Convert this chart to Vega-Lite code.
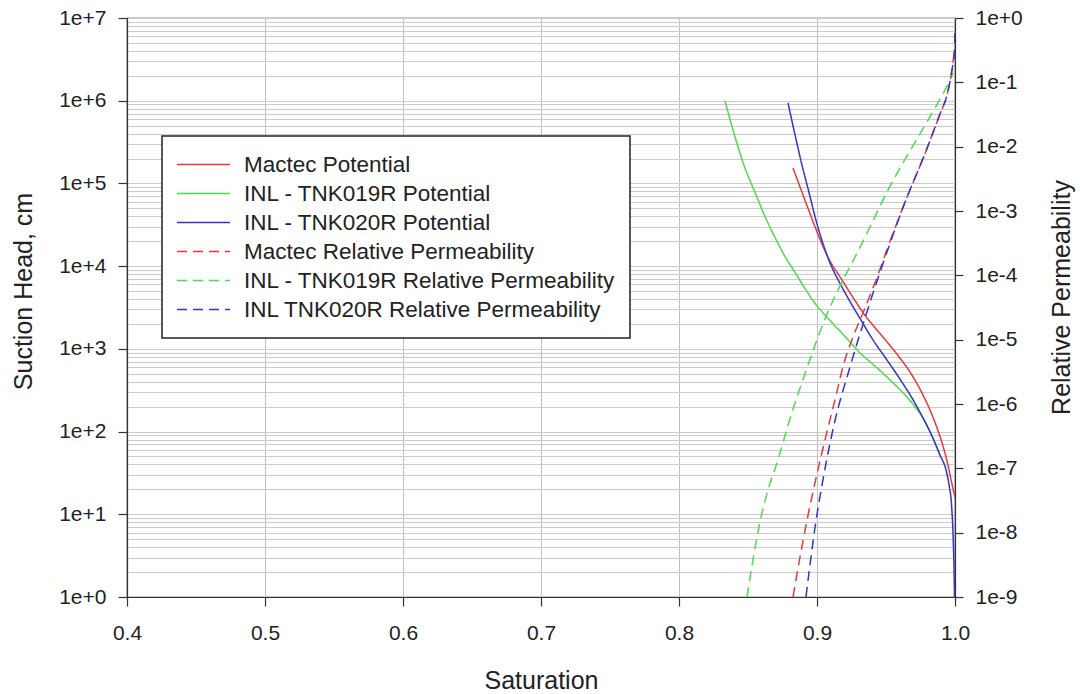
{
  "$schema": "https://vega.github.io/schema/vega-lite/v6.json",
  "width": 828,
  "height": 579,
  "autosize": {"type": "none"},
  "padding": {"left": 127, "top": 18, "right": 125, "bottom": 97},
  "background": "white",
  "config": {
    "view": {"stroke": "#333333", "strokeWidth": 1.2},
    "axis": {
      "labelFont": "Liberation Sans",
      "titleFont": "Liberation Sans",
      "labelFontSize": 21,
      "titleFontSize": 25,
      "titleFontWeight": "normal",
      "labelColor": "#222222",
      "titleColor": "#222222",
      "domainColor": "#333333",
      "domainWidth": 1.2,
      "tickColor": "#333333",
      "tickWidth": 1.2,
      "gridColor": "#c8c8c8",
      "gridWidth": 1,
      "labelFlush": false,
      "labelOverlap": false
    },
    "legend": {
      "strokeColor": "#222222",
      "strokeWidth": 1.5,
      "fillColor": "white",
      "padding": 14,
      "symbolType": "stroke",
      "symbolSize": 2809,
      "symbolStrokeWidth": 1.5,
      "labelFont": "Liberation Sans",
      "labelFontSize": 22.5,
      "labelColor": "#222222",
      "labelOffset": 13,
      "labelLimit": 0,
      "clipHeight": 29,
      "rowPadding": 0
    }
  },
  "datasets": {
    "potential": [
      {"series": "INL - TNK019R Potential", "s": 0.8333, "h": 1000000},
      {"series": "INL - TNK019R Potential", "s": 0.8406, "h": 364700},
      {"series": "INL - TNK019R Potential", "s": 0.8478, "h": 153800},
      {"series": "INL - TNK019R Potential", "s": 0.8551, "h": 77800},
      {"series": "INL - TNK019R Potential", "s": 0.8623, "h": 39800},
      {"series": "INL - TNK019R Potential", "s": 0.8696, "h": 22180},
      {"series": "INL - TNK019R Potential", "s": 0.8768, "h": 13090},
      {"series": "INL - TNK019R Potential", "s": 0.8841, "h": 8390},
      {"series": "INL - TNK019R Potential", "s": 0.8913, "h": 5370},
      {"series": "INL - TNK019R Potential", "s": 0.8986, "h": 3540},
      {"series": "INL - TNK019R Potential", "s": 0.9094, "h": 2204},
      {"series": "INL - TNK019R Potential", "s": 0.9203, "h": 1412},
      {"series": "INL - TNK019R Potential", "s": 0.9312, "h": 892},
      {"series": "INL - TNK019R Potential", "s": 0.942, "h": 621},
      {"series": "INL - TNK019R Potential", "s": 0.9529, "h": 421},
      {"series": "INL - TNK019R Potential", "s": 0.9638, "h": 277},
      {"series": "INL - TNK019R Potential", "s": 0.971, "h": 200},
      {"series": "INL - TNK019R Potential", "s": 0.9783, "h": 132},
      {"series": "INL - TNK019R Potential", "s": 0.9833, "h": 88.5},
      {"series": "INL - TNK019R Potential", "s": 0.9891, "h": 52.1},
      {"series": "Mactec Potential", "s": 0.8826, "h": 153800},
      {"series": "Mactec Potential", "s": 0.8877, "h": 90600},
      {"series": "Mactec Potential", "s": 0.8928, "h": 53700},
      {"series": "Mactec Potential", "s": 0.8986, "h": 29800},
      {"series": "Mactec Potential", "s": 0.9036, "h": 18550},
      {"series": "Mactec Potential", "s": 0.9094, "h": 11560},
      {"series": "Mactec Potential", "s": 0.9167, "h": 7410},
      {"series": "Mactec Potential", "s": 0.9254, "h": 4365},
      {"series": "Mactec Potential", "s": 0.9341, "h": 2636},
      {"series": "Mactec Potential", "s": 0.9428, "h": 1738},
      {"series": "Mactec Potential", "s": 0.9514, "h": 1178},
      {"series": "Mactec Potential", "s": 0.9601, "h": 776},
      {"series": "Mactec Potential", "s": 0.9688, "h": 483},
      {"series": "Mactec Potential", "s": 0.9761, "h": 292},
      {"series": "Mactec Potential", "s": 0.9819, "h": 182.4},
      {"series": "Mactec Potential", "s": 0.987, "h": 110.5},
      {"series": "Mactec Potential", "s": 0.9913, "h": 66.9},
      {"series": "Mactec Potential", "s": 0.9949, "h": 39.4},
      {"series": "Mactec Potential", "s": 0.9975, "h": 24.6},
      {"series": "Mactec Potential", "s": 0.9993, "h": 18.1},
      {"series": "Mactec Potential", "s": 1.0, "h": 16.2},
      {"series": "INL - TNK020R Potential", "s": 0.879, "h": 940000},
      {"series": "INL - TNK020R Potential", "s": 0.8841, "h": 385500},
      {"series": "INL - TNK020R Potential", "s": 0.8891, "h": 167200},
      {"series": "INL - TNK020R Potential", "s": 0.8942, "h": 77800},
      {"series": "INL - TNK020R Potential", "s": 0.8993, "h": 35650},
      {"series": "INL - TNK020R Potential", "s": 0.9043, "h": 18790},
      {"series": "INL - TNK020R Potential", "s": 0.9093, "h": 11070},
      {"series": "INL - TNK020R Potential", "s": 0.9167, "h": 6170},
      {"series": "INL - TNK020R Potential", "s": 0.9239, "h": 3736},
      {"series": "INL - TNK020R Potential", "s": 0.9312, "h": 2328},
      {"series": "INL - TNK020R Potential", "s": 0.9406, "h": 1280},
      {"series": "INL - TNK020R Potential", "s": 0.9507, "h": 733},
      {"series": "INL - TNK020R Potential", "s": 0.9601, "h": 432},
      {"series": "INL - TNK020R Potential", "s": 0.9688, "h": 255},
      {"series": "INL - TNK020R Potential", "s": 0.9761, "h": 154},
      {"series": "INL - TNK020R Potential", "s": 0.9833, "h": 88.5},
      {"series": "INL - TNK020R Potential", "s": 0.9891, "h": 52.1},
      {"series": "INL - TNK020R Potential", "s": 0.9935, "h": 34.3},
      {"series": "INL - TNK020R Potential", "s": 0.9957, "h": 22.6},
      {"series": "INL - TNK020R Potential", "s": 0.9975, "h": 12.9},
      {"series": "INL - TNK020R Potential", "s": 0.9986, "h": 5.62},
      {"series": "INL - TNK020R Potential", "s": 0.9993, "h": 2.12},
      {"series": "INL - TNK020R Potential", "s": 0.99964, "h": 1}
    ],
    "perm": [
      {"series": "INL - TNK019R Relative Permeability", "s": 0.8493, "k": 1e-9},
      {"series": "INL - TNK019R Relative Permeability", "s": 0.8536, "k": 3.76e-9},
      {"series": "INL - TNK019R Relative Permeability", "s": 0.8587, "k": 1.466e-8},
      {"series": "INL - TNK019R Relative Permeability", "s": 0.8645, "k": 4.6e-8},
      {"series": "INL - TNK019R Relative Permeability", "s": 0.8717, "k": 1.349e-7},
      {"series": "INL - TNK019R Relative Permeability", "s": 0.8797, "k": 5.25e-7},
      {"series": "INL - TNK019R Relative Permeability", "s": 0.892, "k": 3.26e-6},
      {"series": "INL - TNK019R Relative Permeability", "s": 0.9064, "k": 2.25e-5},
      {"series": "INL - TNK019R Relative Permeability", "s": 0.9188, "k": 8.47e-5},
      {"series": "INL - TNK019R Relative Permeability", "s": 0.9261, "k": 1.671e-4},
      {"series": "INL - TNK019R Relative Permeability", "s": 0.9383, "k": 5.56e-4},
      {"series": "INL - TNK019R Relative Permeability", "s": 0.9507, "k": 1.977e-3},
      {"series": "INL - TNK019R Relative Permeability", "s": 0.9623, "k": 5.57e-3},
      {"series": "INL - TNK019R Relative Permeability", "s": 0.9746, "k": 0.01574},
      {"series": "INL - TNK019R Relative Permeability", "s": 0.9855, "k": 0.0399},
      {"series": "INL - TNK019R Relative Permeability", "s": 0.9964, "k": 0.1089},
      {"series": "INL - TNK019R Relative Permeability", "s": 0.9986, "k": 0.1396},
      {"series": "Mactec Relative Permeability", "s": 0.8826, "k": 1e-9},
      {"series": "Mactec Relative Permeability", "s": 0.8877, "k": 4.19e-9},
      {"series": "Mactec Relative Permeability", "s": 0.8928, "k": 1.574e-8},
      {"series": "Mactec Relative Permeability", "s": 0.9, "k": 8.17e-8},
      {"series": "Mactec Relative Permeability", "s": 0.9072, "k": 3.67e-7},
      {"series": "Mactec Relative Permeability", "s": 0.913, "k": 1.155e-6},
      {"series": "Mactec Relative Permeability", "s": 0.9196, "k": 4.35e-6},
      {"series": "Mactec Relative Permeability", "s": 0.9261, "k": 1.102e-5},
      {"series": "Mactec Relative Permeability", "s": 0.9333, "k": 2.6e-5},
      {"series": "Mactec Relative Permeability", "s": 0.9428, "k": 8.47e-5},
      {"series": "Mactec Relative Permeability", "s": 0.9514, "k": 2.76e-4},
      {"series": "Mactec Relative Permeability", "s": 0.9623, "k": 1.138e-3},
      {"series": "Mactec Relative Permeability", "s": 0.979, "k": 8.57e-3},
      {"series": "Mactec Relative Permeability", "s": 0.9891, "k": 0.0322},
      {"series": "Mactec Relative Permeability", "s": 0.9942, "k": 0.0635},
      {"series": "Mactec Relative Permeability", "s": 0.9978, "k": 0.1556},
      {"series": "Mactec Relative Permeability", "s": 1.0, "k": 0.381},
      {"series": "INL TNK020R Relative Permeability", "s": 0.892, "k": 1e-9},
      {"series": "INL TNK020R Relative Permeability", "s": 0.8949, "k": 3.14e-9},
      {"series": "INL TNK020R Relative Permeability", "s": 0.8986, "k": 1.225e-8},
      {"series": "INL TNK020R Relative Permeability", "s": 0.9043, "k": 6.59e-8},
      {"series": "INL TNK020R Relative Permeability", "s": 0.9123, "k": 4.72e-7},
      {"series": "INL TNK020R Relative Permeability", "s": 0.9239, "k": 3.76e-6},
      {"series": "INL TNK020R Relative Permeability", "s": 0.9355, "k": 2.42e-5},
      {"series": "INL TNK020R Relative Permeability", "s": 0.9457, "k": 1.127e-4},
      {"series": "INL TNK020R Relative Permeability", "s": 0.953, "k": 3.18e-4},
      {"series": "INL TNK020R Relative Permeability", "s": 0.9623, "k": 1.138e-3},
      {"series": "INL TNK020R Relative Permeability", "s": 0.979, "k": 8.57e-3},
      {"series": "INL TNK020R Relative Permeability", "s": 0.9891, "k": 0.0322},
      {"series": "INL TNK020R Relative Permeability", "s": 0.9942, "k": 0.0635},
      {"series": "INL TNK020R Relative Permeability", "s": 0.9978, "k": 0.1556},
      {"series": "INL TNK020R Relative Permeability", "s": 0.9996, "k": 0.318},
      {"series": "INL TNK020R Relative Permeability", "s": 1.0, "k": 0.652}
    ]
  },
  "layer": [
    {
      "data": {"name": "potential"},
      "mark": {"type": "line", "strokeWidth": 1.5, "interpolate": "monotone", "clip": true},
      "encoding": {
        "x": {
          "field": "s", "type": "quantitative",
          "scale": {"domain": [0.4, 1.0], "nice": false, "zero": false},
          "axis": {
            "values": [0.4, 0.5, 0.6, 0.7, 0.8, 0.9, 1.0],
            "format": ".1f",
            "grid": true,
            "gridColor": "#c0c0c0",
            "tickSize": 9,
            "labelPadding": 16,
            "title": "Saturation",
            "titleY": 91,
            "titleBaseline": "alphabetic"
          }
        },
        "y": {
          "field": "h", "type": "quantitative",
          "scale": {"type": "log", "domain": [1, 10000000], "nice": false},
          "axis": {
            "values": [1,2,3,4,5,6,7,8,9,10,20,30,40,50,60,70,80,90,100,200,300,400,500,600,700,800,900,1000,2000,3000,4000,5000,6000,7000,8000,9000,10000,20000,30000,40000,50000,60000,70000,80000,90000,100000,200000,300000,400000,500000,600000,700000,800000,900000,1000000,2000000,3000000,4000000,5000000,6000000,7000000,8000000,9000000,10000000],
            "grid": true,
            "gridColor": "#cbcbcb",
            "labelExpr": "abs(log(datum.value)/LN10 - round(log(datum.value)/LN10)) < 0.001 ? format(datum.value, '.0e') : ''",
            "tickSize": 9,
            "tickOpacity": {"condition": {"test": "abs(log(datum.value)/LN10 - round(log(datum.value)/LN10)) < 0.001", "value": 1}, "value": 0},
            "labelPadding": 12,
            "title": "Suction Head, cm",
            "titleAngle": 270,
            "titleAlign": "center",
            "titleBaseline": "alphabetic",
            "titleX": -96,
            "titleY": 273
          }
        },
        "color": {
          "field": "series", "type": "nominal",
          "scale": {
            "domain": ["Mactec Potential", "INL - TNK019R Potential", "INL - TNK020R Potential", "Mactec Relative Permeability", "INL - TNK019R Relative Permeability", "INL TNK020R Relative Permeability"],
            "range": ["#e8393a", "#4cdc4c", "#3535c8", "#e8393a", "#4cdc4c", "#3535c8"]
          },
          "legend": {"title": null, "orient": "none", "legendX": 35, "legendY": 118}
        },
        "strokeDash": {
          "field": "series", "type": "nominal",
          "scale": {
            "domain": ["Mactec Potential", "INL - TNK019R Potential", "INL - TNK020R Potential", "Mactec Relative Permeability", "INL - TNK019R Relative Permeability", "INL TNK020R Relative Permeability"],
            "range": [[1, 0], [1, 0], [1, 0], [10, 6], [10, 6], [10, 6]]
          },
          "legend": {"title": null, "orient": "none", "legendX": 35, "legendY": 118}
        }
      }
    },
    {
      "data": {"name": "perm"},
      "mark": {"type": "line", "strokeWidth": 1.5, "interpolate": "monotone", "clip": true},
      "encoding": {
        "x": {
          "field": "s", "type": "quantitative",
          "scale": {"domain": [0.4, 1.0], "nice": false, "zero": false},
          "axis": {
            "values": [0.4, 0.5, 0.6, 0.7, 0.8, 0.9, 1.0],
            "format": ".1f",
            "grid": true,
            "gridColor": "#c0c0c0",
            "tickSize": 9,
            "labelPadding": 16,
            "title": "Saturation",
            "titleY": 91,
            "titleBaseline": "alphabetic"
          }
        },
        "y": {
          "field": "k", "type": "quantitative",
          "scale": {"type": "log", "domain": [1e-9, 1], "nice": false},
          "axis": {
            "orient": "right",
            "values": [1e-9, 1e-8, 1e-7, 1e-6, 1e-5, 1e-4, 1e-3, 1e-2, 1e-1, 1],
            "format": ".0e",
            "grid": false,
            "tickSize": 8,
            "labelPadding": 12,
            "title": "Relative Permeability",
            "titleAngle": 270,
            "titleAlign": "center",
            "titleBaseline": "alphabetic",
            "titleX": 114,
            "titleY": 279
          }
        },
        "color": {
          "field": "series", "type": "nominal",
          "legend": {"title": null, "orient": "none", "legendX": 35, "legendY": 118}
        },
        "strokeDash": {
          "field": "series", "type": "nominal",
          "legend": {"title": null, "orient": "none", "legendX": 35, "legendY": 118}
        }
      }
    }
  ],
  "resolve": {"scale": {"y": "independent"}}
}
